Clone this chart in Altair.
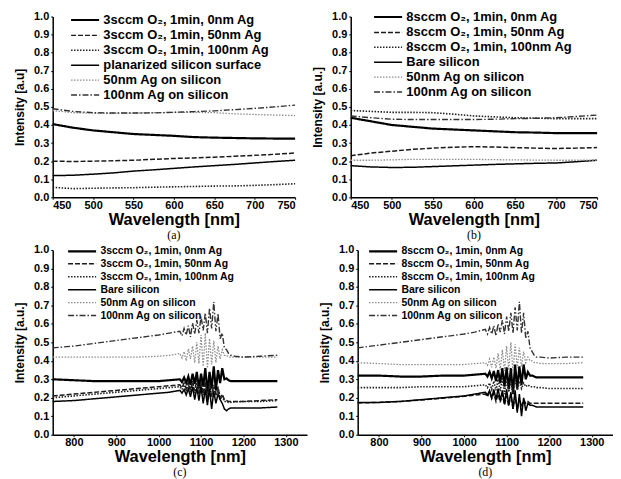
import altair as alt
import pandas as pd

# ---------------- data ----------------
WL_AB = [450, 475, 500, 525, 550, 575, 600, 625, 650, 675, 700, 725, 750]

A_LABELS = ["3sccm O₂, 1min, 0nm Ag", "3sccm O₂, 1min, 50nm Ag", "3sccm O₂, 1min, 100nm Ag",
            "planarized silicon surface", "50nm Ag on silicon", "100nm Ag on silicon"]
A_S1 = [0.405, 0.385, 0.37, 0.36, 0.35, 0.345, 0.34, 0.333, 0.33, 0.328, 0.326, 0.325, 0.325]
A_S2 = [0.20, 0.198, 0.20, 0.202, 0.205, 0.21, 0.215, 0.218, 0.222, 0.227, 0.232, 0.238, 0.245]
A_S3 = [0.055, 0.048, 0.05, 0.052, 0.053, 0.056, 0.058, 0.06, 0.062, 0.063, 0.066, 0.07, 0.075]
A_S4 = [0.12, 0.122, 0.128, 0.135, 0.145, 0.152, 0.16, 0.168, 0.175, 0.182, 0.19, 0.198, 0.205]
A_S5 = [0.48, 0.468, 0.465, 0.465, 0.466, 0.468, 0.47, 0.47, 0.468, 0.462, 0.458, 0.455, 0.452]
A_S6 = [0.49, 0.475, 0.468, 0.466, 0.466, 0.467, 0.47, 0.474, 0.478, 0.485, 0.492, 0.50, 0.51]

B_LABELS = ["8sccm O₂, 1min, 0nm Ag", "8sccm O₂, 1min, 50nm Ag", "8sccm O₂, 1min, 100nm Ag",
            "Bare silicon", "50nm Ag on silicon", "100nm Ag on silicon"]
B_S1 = [0.44, 0.42, 0.40, 0.39, 0.38, 0.375, 0.37, 0.365, 0.36, 0.358, 0.355, 0.355, 0.355]
B_S2 = [0.23, 0.245, 0.255, 0.265, 0.272, 0.277, 0.28, 0.278, 0.275, 0.272, 0.27, 0.272, 0.275]
B_S3 = [0.48, 0.475, 0.47, 0.47, 0.468, 0.46, 0.45, 0.445, 0.44, 0.438, 0.435, 0.435, 0.435]
B_S4 = [0.175, 0.168, 0.165, 0.166, 0.17, 0.174, 0.178, 0.182, 0.185, 0.188, 0.19, 0.197, 0.205]
B_S5 = [0.205, 0.205, 0.207, 0.21, 0.21, 0.21, 0.21, 0.208, 0.207, 0.206, 0.205, 0.205, 0.205]
B_S6 = [0.45, 0.44, 0.432, 0.43, 0.43, 0.43, 0.43, 0.432, 0.435, 0.437, 0.44, 0.447, 0.455]

WL_CD = [750, 800, 850, 900, 950, 1000, 1025,
         1050, 1055, 1060, 1065, 1070, 1075, 1080, 1085, 1090, 1095, 1100, 1105,
         1110, 1115, 1120, 1125, 1130, 1135, 1140, 1145, 1150, 1155, 1160,
         1165, 1170, 1180, 1200, 1240, 1280]

C_LABELS = ["3sccm O₂, 1min, 0nm Ag", "3sccm O₂, 1min, 50nm Ag", "3sccm O₂, 1min, 100nm Ag",
            "Bare silicon", "50nm Ag on silicon", "100nm Ag on silicon"]
C_S1 = [0.30, 0.295, 0.29, 0.29, 0.29, 0.29, 0.295,
        0.30, 0.285, 0.31, 0.28, 0.315, 0.27, 0.33, 0.275, 0.34, 0.25, 0.33, 0.26,
        0.36, 0.23, 0.34, 0.25, 0.37, 0.24, 0.35, 0.28, 0.36, 0.30, 0.305,
        0.295, 0.29, 0.29, 0.29, 0.29, 0.29]
C_S2 = [0.21, 0.22, 0.23, 0.24, 0.25, 0.26, 0.265,
        0.27, 0.255, 0.28, 0.25, 0.285, 0.24, 0.29, 0.235, 0.30, 0.225, 0.29, 0.22,
        0.29, 0.20, 0.285, 0.21, 0.27, 0.22, 0.26, 0.20, 0.22, 0.19, 0.185,
        0.18, 0.18, 0.18, 0.18, 0.185, 0.19]
C_S3 = [0.20, 0.21, 0.22, 0.23, 0.24, 0.25, 0.255,
        0.26, 0.245, 0.27, 0.235, 0.275, 0.23, 0.28, 0.225, 0.29, 0.21, 0.285, 0.215,
        0.28, 0.19, 0.27, 0.205, 0.26, 0.21, 0.245, 0.19, 0.21, 0.18, 0.18,
        0.175, 0.175, 0.178, 0.18, 0.18, 0.185]
C_S4 = [0.18, 0.185, 0.195, 0.205, 0.215, 0.225, 0.23,
        0.24, 0.225, 0.245, 0.215, 0.25, 0.205, 0.26, 0.19, 0.255, 0.185, 0.26, 0.17,
        0.245, 0.16, 0.25, 0.14, 0.235, 0.17, 0.22, 0.19, 0.17, 0.14, 0.13,
        0.14, 0.145, 0.145, 0.145, 0.145, 0.15]
C_S5 = [0.42, 0.42, 0.42, 0.42, 0.42, 0.425, 0.43,
        0.44, 0.415, 0.45, 0.40, 0.465, 0.41, 0.48, 0.39, 0.50, 0.385, 0.54, 0.37,
        0.55, 0.36, 0.52, 0.38, 0.51, 0.39, 0.48, 0.41, 0.46, 0.43, 0.43,
        0.42, 0.42, 0.42, 0.42, 0.42, 0.42]
C_S6 = [0.47, 0.48, 0.495, 0.51, 0.525, 0.54, 0.55,
        0.56, 0.535, 0.575, 0.54, 0.59, 0.53, 0.605, 0.545, 0.62, 0.55, 0.64, 0.565,
        0.66, 0.55, 0.685, 0.575, 0.72, 0.56, 0.655, 0.52, 0.55, 0.47, 0.46,
        0.44, 0.43, 0.425, 0.42, 0.425, 0.43]

D_LABELS = ["8sccm O₂, 1min, 0nm Ag", "8sccm O₂, 1min, 50nm Ag", "8sccm O₂, 1min, 100nm Ag",
            "Bare silicon", "50nm Ag on silicon", "100nm Ag on silicon"]
D_S1 = [0.32, 0.32, 0.315, 0.315, 0.32, 0.32, 0.325,
        0.33, 0.315, 0.34, 0.305, 0.345, 0.29, 0.35, 0.28, 0.36, 0.26, 0.365, 0.245,
        0.36, 0.22, 0.38, 0.25, 0.37, 0.27, 0.38, 0.30, 0.34, 0.32, 0.32,
        0.315, 0.31, 0.31, 0.31, 0.31, 0.31]
D_S2 = [0.172, 0.175, 0.18, 0.188, 0.198, 0.208, 0.215,
        0.22, 0.205, 0.23, 0.195, 0.225, 0.18, 0.22, 0.175, 0.22, 0.16, 0.21, 0.155,
        0.22, 0.14, 0.21, 0.13, 0.20, 0.15, 0.19, 0.17, 0.18, 0.17, 0.17,
        0.17, 0.17, 0.17, 0.17, 0.17, 0.17]
D_S3 = [0.255, 0.255, 0.255, 0.26, 0.26, 0.26, 0.265,
        0.27, 0.255, 0.28, 0.245, 0.29, 0.24, 0.30, 0.235, 0.31, 0.22, 0.30, 0.23,
        0.29, 0.22, 0.30, 0.24, 0.29, 0.25, 0.28, 0.26, 0.27, 0.26, 0.26,
        0.26, 0.255, 0.255, 0.25, 0.25, 0.25]
D_S4 = [0.175, 0.175, 0.18, 0.19, 0.20, 0.21, 0.22,
        0.23, 0.215, 0.24, 0.20, 0.245, 0.19, 0.25, 0.185, 0.24, 0.17, 0.245, 0.16,
        0.23, 0.14, 0.24, 0.12, 0.22, 0.10, 0.20, 0.13, 0.17, 0.16, 0.16,
        0.155, 0.15, 0.15, 0.15, 0.15, 0.15]
D_S5 = [0.39, 0.385, 0.38, 0.38, 0.38, 0.38, 0.385,
        0.39, 0.375, 0.41, 0.365, 0.42, 0.36, 0.44, 0.35, 0.46, 0.345, 0.48, 0.35,
        0.50, 0.34, 0.49, 0.36, 0.47, 0.37, 0.45, 0.39, 0.42, 0.40, 0.40,
        0.39, 0.39, 0.385, 0.385, 0.385, 0.39]
D_S6 = [0.47, 0.485, 0.50, 0.515, 0.53, 0.545, 0.555,
        0.57, 0.545, 0.58, 0.545, 0.59, 0.535, 0.60, 0.555, 0.62, 0.545, 0.64, 0.56,
        0.66, 0.55, 0.69, 0.565, 0.72, 0.55, 0.66, 0.52, 0.56, 0.47, 0.45,
        0.43, 0.42, 0.42, 0.415, 0.42, 0.42]

Y_TICKS = [0.0, 0.1, 0.2, 0.3, 0.4, 0.5, 0.6, 0.7, 0.8, 0.9, 1.0]
X_TICKS_AB = [450, 500, 550, 600, 650, 700, 750]
X_TICKS_CD = [800, 900, 1000, 1100, 1200, 1300]

# ---------------- styles ----------------
COLORS = ["#000000", "#1a1a1a", "#222222", "#000000", "#8c8c8c", "#333333"]
DASHES = [[1, 0], [5, 2], [1.5, 1.5], [1, 0], [1.5, 1.5], [6, 2, 1.5, 2]]
WIDTHS = [2.2, 1.5, 1.6, 1.5, 1.3, 1.4]
FONT = "Liberation Sans"
# long legend stroke drawn with a small nominal symbol size (keeps rows compact)
LEG_PATH = "M-1,0H3.7"


def panel(wl, series, labels, xdom, xticks, ytitle, caption, w, h, lx, ly, lfs, rowpad, xtpad):
    rows = []
    for lab, vals in zip(labels, series):
        for x, y in zip(wl, vals):
            rows.append({"wl": x, "val": y, "series": lab})
    df = pd.DataFrame(rows)
    leg = alt.Legend(title=None, orient="none", legendX=lx, legendY=ly,
                     symbolType=LEG_PATH, symbolSize=144, labelFont=FONT,
                     labelFontSize=lfs, labelFontWeight="bold", labelColor="#000",
                     rowPadding=rowpad, labelLimit=0, labelOffset=19, padding=0)
    return alt.Chart(df).mark_line().encode(
        x=alt.X("wl:Q", scale=alt.Scale(domain=xdom, nice=False, zero=False),
                axis=alt.Axis(values=xticks, format="d", title="Wavelength [nm]",
                              titlePadding=xtpad)),
        y=alt.Y("val:Q", scale=alt.Scale(domain=[0, 1], nice=False),
                axis=alt.Axis(values=Y_TICKS, format=".1f", title=ytitle)),
        color=alt.Color("series:N", scale=alt.Scale(domain=labels, range=COLORS), legend=leg),
        strokeDash=alt.StrokeDash("series:N", scale=alt.Scale(domain=labels, range=DASHES), legend=leg),
        strokeWidth=alt.StrokeWidth("series:N", scale=alt.Scale(type="ordinal", domain=labels, range=WIDTHS), legend=leg),
    ).properties(
        width=w, height=h,
        title=alt.TitleParams(caption, orient="bottom", font="Liberation Serif",
                              fontSize=12, fontWeight="normal", offset=2),
    )


pa = panel(WL_AB, [A_S1, A_S2, A_S3, A_S4, A_S5, A_S6], A_LABELS, [450, 750], X_TICKS_AB,
           "Intensity [a.u]", "(a)", 244, 182, 17, -4, 13, 1, 1)
pb = panel(WL_AB, [B_S1, B_S2, B_S3, B_S4, B_S5, B_S6], B_LABELS, [450, 750], X_TICKS_AB,
           "Intensity [a.u.]", "(b)", 248, 182, 22, -7, 13, 1, 1)
pc = panel(WL_CD, [C_S1, C_S2, C_S3, C_S4, C_S5, C_S6], C_LABELS, [750, 1350], X_TICKS_CD,
           "Intensity [a.u.]", "(c)", 256, 186, 14, -6, 10.5, -1, 1)
pd_ = panel(WL_CD, [D_S1, D_S2, D_S3, D_S4, D_S5, D_S6], D_LABELS, [750, 1350], X_TICKS_CD,
            "Intensity [a.u.]", "(d)", 257, 186, 10, -6, 10.5, -1, 1)

indep = dict(color="independent", strokeDash="independent", strokeWidth="independent")

top = alt.hconcat(pa, pb, spacing=56, bounds="flush").resolve_scale(**indep).resolve_legend(**indep)
bottom = alt.hconcat(pc, pd_, spacing=51, bounds="flush").resolve_scale(**indep).resolve_legend(**indep)

chart = alt.vconcat(top, bottom, spacing=3).resolve_scale(**indep).resolve_legend(**indep).properties(
    padding={"left": 5, "top": 0, "right": 0, "bottom": 0}, background="white"
).configure_view(stroke=None).configure_axis(
    grid=False, domainColor="#000", domainWidth=1.5, tickColor="#000", tickSize=2,
    labelFont=FONT, labelFontWeight="bold", labelFontSize=11, labelColor="#000",
    titleFont=FONT, titleFontWeight="bold", titleColor="#000", labelPadding=0,
).configure_axisX(titleFontSize=16.5).configure_axisY(titleFontSize=12, titlePadding=7, labelPadding=2)

chart.save("out.html", embed_options={"renderer": "svg", "actions": False})
